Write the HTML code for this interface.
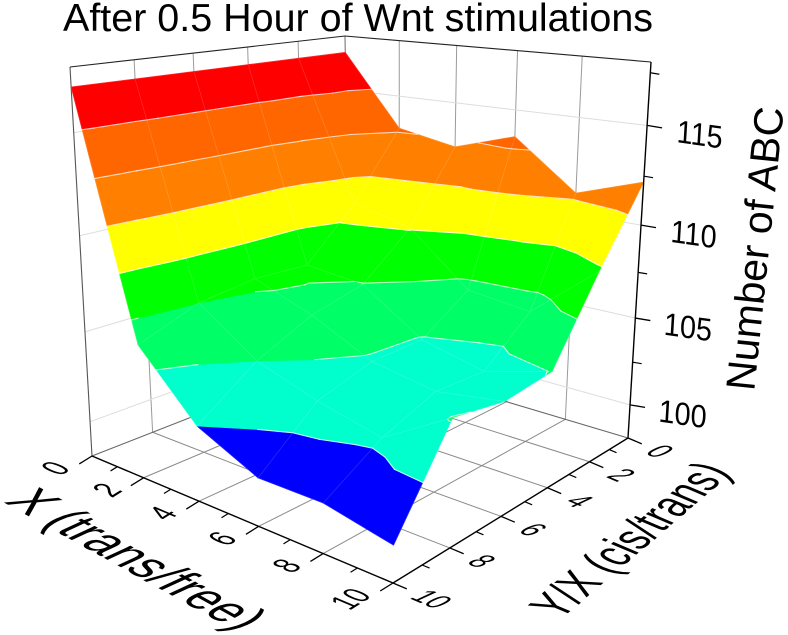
<!DOCTYPE html>
<html>
<head>
<meta charset="utf-8">
<title>After 0.5 Hour of Wnt stimulations</title>
<style>
html,body{margin:0;padding:0;background:#fff;}
svg{display:block;font-family:"Liberation Sans",Arial,sans-serif;}
</style>
</head>
<body>
<svg id="chart" width="788" height="635" viewBox="0 0 788 635" xmlns="http://www.w3.org/2000/svg">
<rect x="0" y="0" width="788" height="635" fill="#ffffff"/>
<text x="63" y="31" font-size="38.7" textLength="590" lengthAdjust="spacingAndGlyphs" fill="#000">After 0.5 Hour of Wnt stimulations</text>
<g id="walls"></g>
<g id="surface"></g>
<g id="axes"></g>
<text transform="translate(769,250) rotate(-84)" text-anchor="middle" font-size="41" fill="#000">Number of ABC</text>
</svg>
<script>
// Axis values
const xValues = [0, 2, 4, 6, 8, 10];
const yValues = [0, 2, 4, 6, 8, 10];
const xTickMajor = [0, 2, 4, 6, 8, 10];
const xTickMinor = [1, 3, 5, 7, 9];
const yTickMajor = [0, 2, 4, 6, 8, 10];
const yTickMinor = [1, 3, 5, 7, 9];
const zTickMajor = [100, 105, 110, 115];
const zTickMinor = [102.5, 107.5, 112.5, 117.5];

// Surface heights: one row per X value, each listing Y = 0,2,4,6,8,10
const zAtX0 = [117.1, 117.1, 117.1, 117.1, 117.1, 117.1];
const zAtX2 = [113.2, 109.5, 106.7, 106.8, 106.4, 105.2];
const zAtX4 = [112.6, 108.7, 106.35, 105.6, 104.2, 102.0];
const zAtX6 = [113.6, 105.9, 104.1, 104.0, 103.1, 100.5];
const zAtX8 = [111.1, 105.5, 103.3, 103.4, 102.3, 100.5];
const zAtX10 = [112.2, 108.4, 104.25, 103.9, 104.35, 99.8];
const zRows = [zAtX0, zAtX2, zAtX4, zAtX6, zAtX8, zAtX10];

// Contour levels and the fill of each band
const contourLevels = [102, 104.2, 106.4, 108.6, 110.8, 113, 115.2];
const bandColors = ['#0000ff', '#00ffcc', '#00ff66', '#00ff00', '#ffff00', '#ff8000', '#ff6600', '#ff0000'];

const xDomain = [0, 10];
const yDomain = [0, 10];
const zDomain = [98, 118];

const NS = 'http://www.w3.org/2000/svg';
const wallsG = document.getElementById('walls');
const surfaceG = document.getElementById('surface');
const axesG = document.getElementById('axes');

function quadMap(p0, p1, p2, p3) {
  const dx1 = p1[0] - p2[0], dx2 = p3[0] - p2[0], sx = p0[0] - p1[0] + p2[0] - p3[0];
  const dy1 = p1[1] - p2[1], dy2 = p3[1] - p2[1], sy = p0[1] - p1[1] + p2[1] - p3[1];
  const det = dx1 * dy2 - dx2 * dy1;
  const g = (sx * dy2 - dx2 * sy) / det;
  const h = (dx1 * sy - sx * dy1) / det;
  const a = p1[0] - p0[0] + g * p1[0], b = p3[0] - p0[0] + h * p3[0];
  const d = p1[1] - p0[1] + g * p1[1], e = p3[1] - p0[1] + h * p3[1];
  return function (u, v) {
    const w = g * u + h * v + 1;
    return [(a * u + b * v + p0[0]) / w, (d * u + e * v + p0[1]) / w];
  };
}

const floorMap = quadMap([350, 355], [628, 438], [393, 583], [92, 456]);
const ceilMap = quadMap([345, 36], [651, 62], [400, 106], [70, 67]);
const depthRatio = 0.87;

function project(x, y, z) {
  const u = (x - xDomain[0]) / (xDomain[1] - xDomain[0]);
  const v = (y - yDomain[0]) / (yDomain[1] - yDomain[0]);
  const t = (z - zDomain[0]) / (zDomain[1] - zDomain[0]);
  const f = floorMap(u, v);
  const c = ceilMap(u, v);
  const w1 = 1 - t, w2 = depthRatio * t;
  return [(f[0] * w1 + c[0] * w2) / (w1 + w2), (f[1] * w1 + c[1] * w2) / (w1 + w2)];
}

function line(parent, a, b, stroke, width, opacity) {
  const el = document.createElementNS(NS, 'line');
  el.setAttribute('x1', a[0].toFixed(2));
  el.setAttribute('y1', a[1].toFixed(2));
  el.setAttribute('x2', b[0].toFixed(2));
  el.setAttribute('y2', b[1].toFixed(2));
  el.setAttribute('stroke', stroke);
  el.setAttribute('stroke-width', width);
  if (opacity !== undefined) el.setAttribute('stroke-opacity', opacity);
  parent.appendChild(el);
  return el;
}

const zLo = zDomain[0], zHi = zDomain[1];
const xMax = xDomain[1], yMax = yDomain[1];

// Wall and floor gridlines
xTickMajor.forEach(function (x) {
  if (x > 0 && x < xMax) {
    const wall = line(wallsG, project(x, 0, zLo), project(x, 0, zHi), '#9a9a9a', 1);
    
    
    const flr = line(wallsG, project(x, 0, zLo), project(x, yMax, zLo), '#8a8a8a', 1);
    
    
  }
});
yTickMajor.forEach(function (y) {
  if (y > 0 && y < yMax) {
    const wall = line(wallsG, project(0, y, zLo), project(0, y, zHi), '#9a9a9a', 1);
    
    
    const flr = line(wallsG, project(0, y, zLo), project(xMax, y, zLo), '#8a8a8a', 1);
    
    
  }
});
zTickMajor.forEach(function (z) {
  const a = line(wallsG, project(0, yMax, z), project(0, 0, z), '#dddddd', 1);
  
  
  const b = line(wallsG, project(0, 0, z), project(xMax, 0, z), '#dddddd', 1);
  
  
});

// Frame
[
  [[0, yMax, zLo], [0, 0, zLo], '#666666'],
  [[0, 0, zLo], [xMax, 0, zLo], '#666666'],
  [[0, 0, zLo], [0, 0, zHi], '#777777'],
  [[0, yMax, zLo], [0, yMax, zHi], '#555555'],
  [[0, yMax, zHi], [0, 0, zHi], '#222222'],
  [[0, 0, zHi], [xMax, 0, zHi], '#222222']
].forEach(function (s) {
  const el = line(wallsG, project(s[0][0], s[0][1], s[0][2]), project(s[1][0], s[1][1], s[1][2]), s[2], 1.1);
  
  
});

// Contour band clipping
function clipPoly(poly, level, keepAbove) {
  const out = [];
  for (let i = 0; i < poly.length; i++) {
    const a = poly[i], b = poly[(i + 1) % poly.length];
    const ina = keepAbove ? a[2] >= level : a[2] <= level;
    const inb = keepAbove ? b[2] >= level : b[2] <= level;
    if (ina) out.push(a);
    if (ina !== inb) {
      const t = (level - a[2]) / (b[2] - a[2]);
      out.push([a[0] + t * (b[0] - a[0]), a[1] + t * (b[1] - a[1]), level]);
    }
  }
  return out;
}

function drawTriangle(tri) {
  for (let b = 0; b < bandColors.length; b++) {
    let poly = tri;
    if (b > 0) poly = clipPoly(poly, contourLevels[b - 1], true);
    if (poly.length && b < contourLevels.length) poly = clipPoly(poly, contourLevels[b], false);
    if (poly.length < 3) continue;
    const pts = poly.map(function (p) {
      const s = project(p[0], p[1], p[2]);
      return s[0].toFixed(2) + ',' + s[1].toFixed(2);
    }).join(' ');
    const el = document.createElementNS(NS, 'polygon');
    el.setAttribute('points', pts);
    el.setAttribute('fill', bandColors[b]);
    el.setAttribute('stroke', bandColors[b]);
    el.setAttribute('stroke-width', '0.7');
    el.setAttribute('stroke-linejoin', 'round');
    
    
    surfaceG.appendChild(el);
  }
}

function drawContourSegments(tri) {
  contourLevels.forEach(function (lv) {
    const pts = [];
    for (let i = 0; i < 3; i++) {
      const a = tri[i], b = tri[(i + 1) % 3];
      if ((a[2] - lv) * (b[2] - lv) < 0) {
        const t = (lv - a[2]) / (b[2] - a[2]);
        pts.push(project(a[0] + t * (b[0] - a[0]), a[1] + t * (b[1] - a[1]), lv));
      }
    }
    if (pts.length === 2) {
      const el = line(surfaceG, pts[0], pts[1], '#ffffff', 1.1, 0.75);
      el.setAttribute('stroke-linecap', 'round');
      
      
    }
  });
}

// Draw far quads first
for (let i = 0; i < xValues.length - 1; i++) {
  for (let j = 0; j < yValues.length - 1; j++) {
    const p00 = [xValues[i], yValues[j], zRows[i][j]];
    const p10 = [xValues[i + 1], yValues[j], zRows[i + 1][j]];
    const p11 = [xValues[i + 1], yValues[j + 1], zRows[i + 1][j + 1]];
    const p01 = [xValues[i], yValues[j + 1], zRows[i][j + 1]];
    const mid = [
      (p00[0] + p10[0] + p11[0] + p01[0]) / 4,
      (p00[1] + p10[1] + p11[1] + p01[1]) / 4,
      (p00[2] + p10[2] + p11[2] + p01[2]) / 4
    ];
    const tris = [[p00, p10, mid], [p10, p11, mid], [p11, p01, mid], [p01, p00, mid]];
    tris.forEach(drawTriangle);
    tris.forEach(drawContourSegments);
    [[p00, p10], [p10, p11], [p11, p01], [p01, p00]].forEach(function (e) {
      const m = line(surfaceG, project(e[0][0], e[0][1], e[0][2]), project(e[1][0], e[1][1], e[1][2]), '#ffffff', 0.6, 0.18);
      
      
    });
  }
}

// Axes
const xAxisLine = line(axesG, project(0, yMax, zLo), project(xMax, yMax, zLo), '#000000', 1.4);


const yAxisLine = line(axesG, project(xMax, yMax, zLo), project(xMax, 0, zLo), '#000000', 1.4);


const zAxisLine = line(axesG, project(xMax, 0, zLo), project(xMax, 0, zHi), '#000000', 1.4);



const toYZero = [0.85, -0.53];
const toXZero = [-0.92, -0.39];

function planeText(label, px, py, anchor, su, sv, ua, va) {
  const k = 20;
  const el = document.createElementNS(NS, 'text');
  el.textContent = label;
  el.setAttribute('font-size', k);
  el.setAttribute('fill', '#000');
  el.setAttribute('text-anchor', anchor);
  el.setAttribute('transform', 'matrix(' +
    (ua[0] * su / k).toFixed(4) + ' ' + (ua[1] * su / k).toFixed(4) + ' ' +
    (-va[0] * sv / k).toFixed(4) + ' ' + (-va[1] * sv / k).toFixed(4) + ' ' +
    px.toFixed(2) + ' ' + py.toFixed(2) + ')');
  axesG.appendChild(el);
  return el;
}

xTickMajor.forEach(function (x) {
  const p = project(x, yMax, zLo);
  const tick = line(axesG, p, [p[0] + toYZero[0] * -15, p[1] + toYZero[1] * -15], '#000000', 1.3);
  
  
  const label = planeText(String(x), p[0] - 20, p[1] + 13, 'end', 25, 34, toYZero, toXZero);
  
  
});
xTickMinor.forEach(function (x) {
  const p = project(x, yMax, zLo);
  const tick = line(axesG, p, [p[0] + toYZero[0] * -8, p[1] + toYZero[1] * -8], '#000000', 1.2);
  
  
});
yTickMajor.forEach(function (y) {
  const p = project(xMax, y, zLo);
  const tick = line(axesG, p, [p[0] + toXZero[0] * -15, p[1] + toXZero[1] * -15], '#000000', 1.3);
  
  
  const label = planeText(String(y), p[0] + 15.5, p[1] + 15, 'start', 26, 32, [0.92, 0.39], [0.9, -0.42]);
  
  
});
yTickMinor.forEach(function (y) {
  const p = project(xMax, y, zLo);
  const tick = line(axesG, p, [p[0] + toXZero[0] * -8, p[1] + toXZero[1] * -8], '#000000', 1.2);
  
  
});
zTickMajor.forEach(function (z) {
  const p = project(xMax, 0, z);
  const tick = line(axesG, p, [p[0] + 15, p[1] + 2.5], '#000000', 1.3);
  
  
  const label = planeText(String(z), p[0] + 52, p[1] + 20, 'middle', 29, 32, [0.99, 0.14], [0.06, -1]);
  
  
});
zTickMinor.forEach(function (z) {
  const p = project(xMax, 0, z);
  const tick = line(axesG, p, [p[0] + 9, p[1] + 1.5], '#000000', 1.2);
  
  
});

// Axis titles lying in the floor plane
const xTitle = planeText('X (trans/free)', 3, 502, 'start', 46, 55, [0.874, 0.484], [0.91, -0.42]);


const yTitle = planeText('Y/X (cis/trans)', 560, 620, 'start', 36, 52, [0.76, -0.65], [-0.92, -0.39]);


</script>
</body>
</html>
